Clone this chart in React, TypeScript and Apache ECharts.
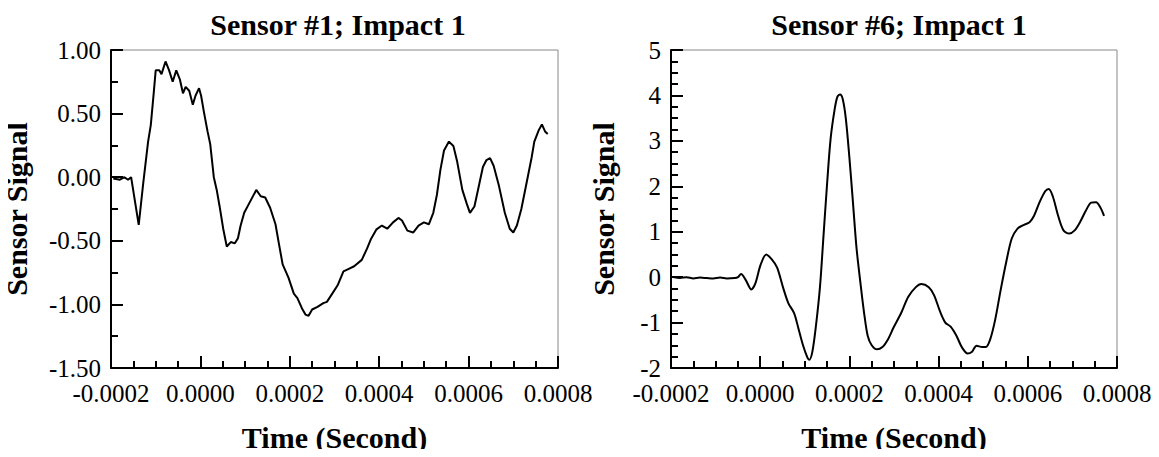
import React, { useEffect, useRef } from "react";
import * as echarts from "echarts";

const titles = ["Sensor #1; Impact 1", "Sensor #6; Impact 1"];
const xName = "Time (Second)";
const yName = "Sensor Signal";

const s1Time = [
  -0.000195, -0.00018, -0.00017, -0.000162, -0.000155, -0.000138, -0.000128, -0.000117, -0.000111, -0.000105,
  -0.0001, -0.000092, -0.000087, -0.000078, -0.00007, -0.000062, -0.000054, -0.000046, -0.000039, -0.000033,
  -0.000025, -0.000017, -0.000011, -0.000003, 0.0000016, 0.000008, 0.000016, 0.000022, 0.00003, 0.0000365,
  0.000043, 0.000051, 0.000059, 0.000068, 0.000077, 0.000084, 0.00009, 0.000098, 0.00011, 0.000125,
  0.000135, 0.000145, 0.000156, 0.000168, 0.000176, 0.000184, 0.000197, 0.000209, 0.000217, 0.000227,
  0.000235, 0.000242, 0.00025, 0.000262, 0.000275, 0.000283, 0.000295, 0.000307, 0.00032, 0.000332,
  0.000344, 0.000361, 0.000373, 0.000381, 0.000394, 0.000406, 0.000418, 0.000431, 0.000443, 0.000451,
  0.000463, 0.000476, 0.000488, 0.0005, 0.000511, 0.000521, 0.000529, 0.000537, 0.000545, 0.000556,
  0.000566, 0.000574, 0.000586, 0.000596, 0.000603, 0.000613, 0.000621, 0.000632, 0.00064, 0.000648,
  0.000656, 0.000668, 0.000681, 0.000692, 0.0007, 0.000708, 0.000718, 0.00073, 0.000741, 0.000747,
  0.000757, 0.000764, 0.000771, 0.000777,
];
const s1Value = [
  -0.01, -0.02, 0.0, -0.02, 0.0, -0.375, -0.05, 0.28, 0.41, 0.64,
  0.84, 0.84, 0.81, 0.91, 0.84, 0.75, 0.84, 0.77, 0.66, 0.71,
  0.68, 0.57, 0.64, 0.7, 0.64, 0.51, 0.36, 0.26, 0.0, -0.1,
  -0.23, -0.405, -0.545, -0.51, -0.52, -0.48, -0.38, -0.28, -0.2, -0.1,
  -0.15, -0.16, -0.24, -0.37, -0.53, -0.685, -0.79, -0.915, -0.95, -1.03,
  -1.08, -1.09, -1.04, -1.02, -0.99, -0.98, -0.915, -0.85, -0.74, -0.72,
  -0.7, -0.65, -0.56, -0.49, -0.41, -0.38, -0.405, -0.355, -0.32, -0.34,
  -0.42, -0.435, -0.38, -0.355, -0.37, -0.28, -0.14, 0.06, 0.21, 0.28,
  0.245, 0.13, -0.1, -0.21, -0.28, -0.23, -0.1, 0.08, 0.135, 0.15,
  0.09, -0.07, -0.28, -0.405, -0.435, -0.38, -0.25, -0.04, 0.155, 0.28,
  0.37, 0.415, 0.36, 0.34,
];

const s6Time = [
  -0.000195, -0.00018, -0.000165, -0.00015, -0.000135, -0.00012, -0.000105, -0.00009, -0.000075, -0.000057,
  -0.00005, -0.000043, -0.000032, -0.00002, -0.0000113, 0.0000012, 0.0000136, 0.000026, 0.000038, 0.000051,
  0.000063, 0.000076, 0.000086, 0.000096, 0.000105, 0.00011, 0.000117, 0.000125, 0.000134, 0.000142,
  0.00015, 0.000158, 0.000167, 0.000173, 0.000179, 0.000185, 0.000192, 0.0002, 0.000208, 0.000216,
  0.000225, 0.000233, 0.000241, 0.00025, 0.000262, 0.000274, 0.000287, 0.000299, 0.000316, 0.000332,
  0.000349, 0.000361, 0.000378, 0.00039, 0.000403, 0.000415, 0.000427, 0.00044, 0.000452, 0.000465,
  0.000475, 0.000485, 0.000498, 0.000506, 0.000516, 0.000527, 0.000539, 0.000552, 0.000564, 0.000577,
  0.000589, 0.000604, 0.000614, 0.000626, 0.000639, 0.000647, 0.000656, 0.000668, 0.00068, 0.000693,
  0.000705, 0.000717, 0.00073, 0.000742, 0.000753, 0.000763, 0.000771,
];
const s6Value = [
  0.0, -0.02, 0.0, -0.03, -0.01, -0.02, -0.03, -0.01, -0.03, -0.02,
  0.0, 0.07, -0.07, -0.27, -0.15, 0.28, 0.5, 0.39, 0.21, -0.22,
  -0.57, -0.79, -1.14, -1.5, -1.75, -1.82, -1.64, -1.07, -0.22, 0.92,
  2.06, 3.06, 3.7, 3.97, 4.02, 3.92, 3.49, 2.63, 1.64, 0.64,
  -0.15, -0.79, -1.29, -1.5, -1.59, -1.54, -1.36, -1.11, -0.79, -0.43,
  -0.22, -0.15, -0.22, -0.4, -0.75, -1.0, -1.09, -1.29, -1.54, -1.68,
  -1.64, -1.51, -1.54, -1.54, -1.36, -0.93, -0.29, 0.35, 0.85, 1.07,
  1.14, 1.21, 1.35, 1.64, 1.89, 1.94, 1.78, 1.35, 1.03, 0.96,
  1.03, 1.21, 1.46, 1.64, 1.65, 1.53, 1.35,
];

const xMin = -0.0002;
const xMax = 0.0008;
const xStep = 0.0002;
const y1 = { min: -1.5, max: 1.0, step: 0.5, digits: 2, minor: 2 };
const y6 = { min: -2, max: 5, step: 1, digits: 0, minor: 4 };

const FONT = "Liberation Serif";

function makeX(gridIndex: number) {
  return {
    type: "value",
    gridIndex,
    min: xMin,
    max: xMax,
    interval: xStep,
    name: xName,
    nameLocation: "middle",
    nameGap: 54,
    nameTextStyle: { fontFamily: FONT, fontSize: 30, fontWeight: "bold", color: "#000" },
    axisLine: { show: true, onZero: false, lineStyle: { color: "#000", width: 2 } },
    axisTick: { show: true, inside: true, length: 12, lineStyle: { color: "#000", width: 2 } },
    minorTick: { show: true, splitNumber: 4, length: 7, lineStyle: { color: "#000", width: 2 } },
    splitLine: { show: false },
    axisLabel: {
      fontFamily: FONT,
      fontSize: 25,
      color: "#000",
      margin: 13,
      showMinLabel: true,
      showMaxLabel: true,
      hideOverlap: false,
      formatter: (v: number) => v.toFixed(4),
    },
  };
}

function makeY(gridIndex: number, cfg: typeof y1, gap: number) {
  return {
    type: "value",
    gridIndex,
    min: cfg.min,
    max: cfg.max,
    interval: cfg.step,
    name: yName,
    nameLocation: "middle",
    nameGap: gap,
    nameRotate: 90,
    nameTextStyle: { fontFamily: FONT, fontSize: 30, fontWeight: "bold", color: "#000" },
    axisLine: { show: true, onZero: false, lineStyle: { color: "#000", width: 2 } },
    axisTick: { show: true, inside: true, length: 12, lineStyle: { color: "#000", width: 2 } },
    minorTick: { show: true, splitNumber: cfg.minor, length: 7, lineStyle: { color: "#000", width: 2 } },
    splitLine: { show: false },
    axisLabel: {
      fontFamily: FONT,
      fontSize: 25,
      color: "#000",
      margin: 10,
      showMinLabel: true,
      showMaxLabel: true,
      formatter: (v: number) => v.toFixed(cfg.digits),
    },
  };
}

export default function App() {
  const ref = useRef<HTMLDivElement>(null);
  useEffect(() => {
    if (!ref.current) return;
    const chart = echarts.init(ref.current, null, { renderer: "svg" });
    const d1 = s1Time.map((t, i) => [t, s1Value[i]]);
    const d6 = s6Time.map((t, i) => [t, s6Value[i]]);
    chart.setOption({
      animation: false,
      backgroundColor: "#fff",
      title: [
        {
          text: titles[0],
          left: 333,
          textAlign: "center",
          top: 4,
          textStyle: { fontFamily: FONT, fontSize: 30, fontWeight: "bold", color: "#000" },
        },
        {
          text: titles[1],
          left: 894,
          textAlign: "center",
          top: 4,
          textStyle: { fontFamily: FONT, fontSize: 30, fontWeight: "bold", color: "#000" },
        },
      ],
      grid: [
        { left: 109, right: 601, top: 50, bottom: 81, show: true, borderColor: "#888", borderWidth: 1, backgroundColor: "transparent" },
        { left: 671, right: 42, top: 50, bottom: 81, show: true, borderColor: "#888", borderWidth: 1, backgroundColor: "transparent" },
      ],
      xAxis: [makeX(0), makeX(1)],
      yAxis: [makeY(0, y1, 80), makeY(1, y6, 53)],
      series: [
        {
          type: "line",
          xAxisIndex: 0,
          yAxisIndex: 0,
          data: d1,
          showSymbol: false,
          symbol: "none",
          lineStyle: { color: "#000", width: 2 },
        },
        {
          type: "line",
          xAxisIndex: 1,
          yAxisIndex: 1,
          data: d6,
          showSymbol: false,
          symbol: "none",
          smooth: 0.3,
          lineStyle: { color: "#000", width: 2 },
        },
      ],
    });
    return () => chart.dispose();
  }, []);
  return <div ref={ref} style={{ width: 1159, height: 457, margin: -8 }} />;
}
